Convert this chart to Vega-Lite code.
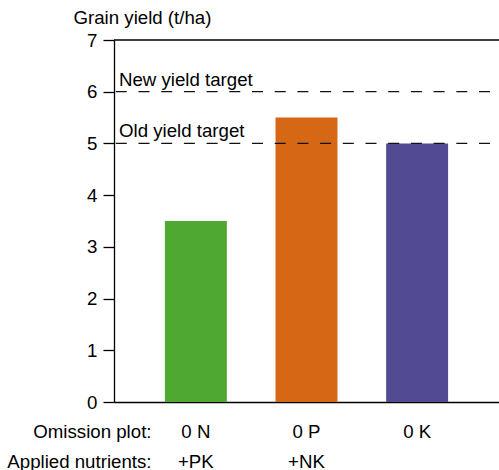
{
  "$schema": "https://vega.github.io/schema/vega-lite/v6.json",
  "width": 385,
  "height": 362,
  "autosize": {"type": "none"},
  "padding": {"left": 114, "top": 40, "right": 0, "bottom": 68},
  "config": {
    "font": "Liberation Sans",
    "view": {"stroke": null},
    "axis": {"grid": false}
  },
  "datasets": {
    "bars": [
      {"plot": "0 N", "applied": "+PK", "yield": 3.5, "color": "#4FA832"},
      {"plot": "0 P", "applied": "+NK", "yield": 5.5, "color": "#D66714"},
      {"plot": "0 K", "applied": "", "yield": 5.0, "color": "#534A94"}
    ],
    "targets": [
      {"label": "New yield target", "value": 6},
      {"label": "Old yield target", "value": 5}
    ]
  },
  "layer": [
    {
      "data": {"name": "bars"},
      "mark": {"type": "bar"},
      "encoding": {
        "x": {
          "field": "plot",
          "type": "nominal",
          "sort": null,
          "scale": {"paddingInner": 0.44, "paddingOuter": 0.46},
          "axis": {
            "orient": "bottom",
            "title": ["Omission plot:", "Applied nutrients:"],
            "titleX": 37,
            "titleY": 35,
            "titleAlign": "right",
            "titleBaseline": "alphabetic",
            "titleAnchor": null,
            "titleAngle": 0,
            "titleFontSize": 18.67,
            "titleFontWeight": "normal",
            "titleColor": "#000",
            "titleLineHeight": 30,
            "labelAngle": 0,
            "labelFontSize": 18.67,
            "labelColor": "#000",
            "labelPadding": 20,
            "labelBaseline": "top",
            "labelLineHeight": 30,
            "labelExpr": "datum.label == '0 N' ? ['0 N', '+PK'] : datum.label == '0 P' ? ['0 P', '+NK'] : datum.label",
            "ticks": false,
            "domainColor": "#000",
            "domainWidth": 1.3
          }
        },
        "y": {
          "field": "yield",
          "type": "quantitative",
          "scale": {"domain": [0, 7], "nice": false},
          "axis": {
            "values": [0, 1, 2, 3, 4, 5, 6, 7],
            "format": "d",
            "title": "Grain yield (t/ha)",
            "titleAngle": 0,
            "titleAlign": "left",
            "titleBaseline": "alphabetic",
            "titleX": -41,
            "titleY": -17,
            "titleFontSize": 18.67,
            "titleFontWeight": "normal",
            "titleColor": "#000",
            "labelFontSize": 18.67,
            "labelColor": "#000",
            "labelPadding": 6,
            "tickSize": 11,
            "tickColor": "#000",
            "tickWidth": 1.3,
            "domainColor": "#000",
            "domainWidth": 1.3
          }
        },
        "color": {"field": "color", "type": "nominal", "scale": null, "legend": null}
      }
    },
    {
      "data": {"name": "targets"},
      "mark": {"type": "rule", "stroke": "#111", "strokeWidth": 1.3, "strokeDash": [11, 11.7], "strokeDashOffset": 13.7},
      "encoding": {"y": {"field": "value", "type": "quantitative"}}
    },
    {
      "data": {"name": "targets"},
      "mark": {"type": "text", "align": "left", "baseline": "alphabetic", "dx": 5, "dy": -6, "fontSize": 18.67, "color": "#000"},
      "encoding": {
        "x": {"value": 0},
        "y": {"field": "value", "type": "quantitative"},
        "text": {"field": "label"}
      }
    },
    {
      "data": {"values": [{"top": 7}]},
      "mark": {"type": "rule", "stroke": "#000", "strokeWidth": 1.3},
      "encoding": {"y": {"field": "top", "type": "quantitative"}}
    }
  ]
}
